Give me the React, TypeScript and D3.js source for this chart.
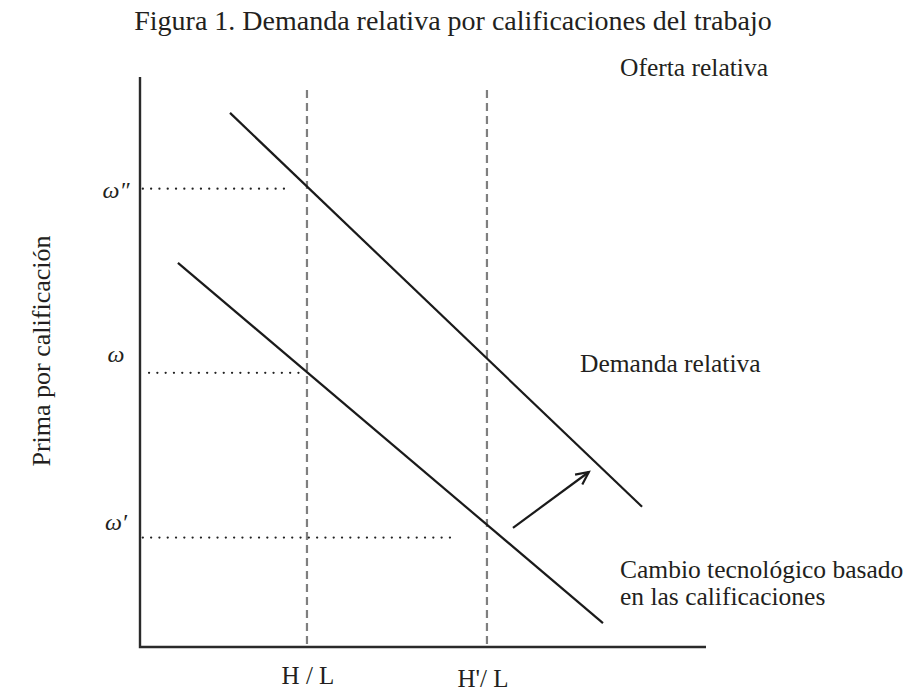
import React from "react";
import * as d3 from "d3";

// ---- data (in chart units) ----
const supplyLabels = ["H / L", "H'/ L"];
const supplyX = [2.95, 6.13];
const supplyTop = 9.77;

const wageLabels = ["ω″", "ω", "ω′"];
const wageY = [8.04, 4.81, 1.92];
const wageDotFrom = [0.05, 0.16, 0.05];
const wageDotTo = [2.61, 2.88, 5.51];

// demand curves: [x0, y0, x1, y1]
const demandNew = [1.59, 9.37, 8.87, 2.46];
const demandOld = [0.67, 6.74, 8.18, 0.42];

// shift arrow
const arrowFrom = [6.59, 2.09];
const arrowTo = [7.93, 3.07];

const title = "Figura 1. Demanda relativa por calificaciones del trabajo";
const yTitle = "Prima por calificación";
const supplyTitle = "Oferta relativa";
const demandTitle = "Demanda relativa";
const shiftTitle = ["Cambio tecnológico basado", "en las calificaciones"];

const W = 904;
const H = 694;
const FONT = "'Liberation Serif', 'DejaVu Serif', serif";

export default function App() {
  const x = d3.scaleLinear().domain([0, 10]).range([140, 706]);
  const y = d3.scaleLinear().domain([0, 10]).range([647, 77]);
  const line = d3.line<[number, number]>().x((d) => x(d[0])).y((d) => y(d[1]));
  const pxLine = d3.line<[number, number]>();

  const ax0 = x(arrowFrom[0]);
  const ay0 = y(arrowFrom[1]);
  const ax1 = x(arrowTo[0]);
  const ay1 = y(arrowTo[1]);
  const ang = Math.atan2(ay1 - ay0, ax1 - ax0);
  const hl = 14;
  const ha = 0.45;
  const head: [number, number][] = [
    [ax1 - hl * Math.cos(ang - ha), ay1 - hl * Math.sin(ang - ha)],
    [ax1, ay1],
    [ax1 - hl * Math.cos(ang + ha), ay1 - hl * Math.sin(ang + ha)],
  ];

  const labelBase = [9, -11, -8];
  const supplyBase = [684, 687];
  const supplyShift = [1, -4];

  return (
    <svg
      width={W}
      height={H}
      style={{ position: "absolute", left: 0, top: 0, background: "#fff" }}
      fontFamily={FONT}
    >
      <rect width={W} height={H} fill="#fff" />
      <text x={453} y={30} textAnchor="middle" fontSize={28} fill="#231f20">
        {title}
      </text>

      {/* supply dashed lines */}
      {supplyX.map((v, i) => (
        <line
          key={"s" + i}
          x1={x(v)}
          x2={x(v)}
          y1={y(supplyTop)}
          y2={y(0)}
          stroke="#7f7f7f"
          strokeWidth={2.2}
          strokeDasharray="8 5"
        />
      ))}

      {/* wage dotted lines */}
      {wageY.map((v, i) => (
        <line
          key={"w" + i}
          x1={x(wageDotFrom[i])}
          x2={x(wageDotTo[i])}
          y1={y(v)}
          y2={y(v)}
          stroke="#222"
          strokeWidth={2.3}
          strokeLinecap="round"
          strokeDasharray="0 8.3"
        />
      ))}

      {/* demand curves */}
      {[demandNew, demandOld].map((d, i) => (
        <path
          key={"d" + i}
          d={line([
            [d[0], d[1]],
            [d[2], d[3]],
          ]) as string}
          stroke="#1a1a1a"
          strokeWidth={2.2}
          fill="none"
        />
      ))}

      {/* arrow */}
      <line x1={ax0} y1={ay0} x2={ax1} y2={ay1} stroke="#1a1a1a" strokeWidth={2.2} />
      <path
        d={pxLine(head) as string}
        stroke="#1a1a1a"
        strokeWidth={2.2}
        fill="none"
        strokeLinejoin="miter"
      />

      {/* axes */}
      <path
        d={line([
          [0, 10],
          [0, 0],
          [10, 0],
        ]) as string}
        stroke="#2a2a2a"
        strokeWidth={2.4}
        fill="none"
      />

      {/* wage labels */}
      {wageLabels.map((t, i) => (
        <text
          key={"wl" + i}
          x={116}
          y={y(wageY[i]) + labelBase[i]}
          textAnchor="middle"
          fontSize={24}
          fontStyle="italic"
          fill="#231f20"
        >
          {t}
        </text>
      ))}

      {/* supply labels */}
      {supplyLabels.map((t, i) => (
        <text
          key={"sl" + i}
          x={x(supplyX[i]) + supplyShift[i]}
          y={supplyBase[i]}
          textAnchor="middle"
          fontSize={25}
          fill="#231f20"
        >
          {t}
        </text>
      ))}

      <text
        transform={`translate(50, 351) rotate(-90)`}
        textAnchor="middle"
        fontSize={26}
        fill="#231f20"
      >
        {yTitle}
      </text>

      <text x={694} y={76} textAnchor="middle" fontSize={25.5} fill="#231f20">
        {supplyTitle}
      </text>
      <text x={580} y={372} fontSize={25.5} fill="#231f20">
        {demandTitle}
      </text>
      {shiftTitle.map((t, i) => (
        <text key={"st" + i} x={620} y={578 + i * 27} fontSize={25.5} fill="#231f20">
          {t}
        </text>
      ))}
    </svg>
  );
}
